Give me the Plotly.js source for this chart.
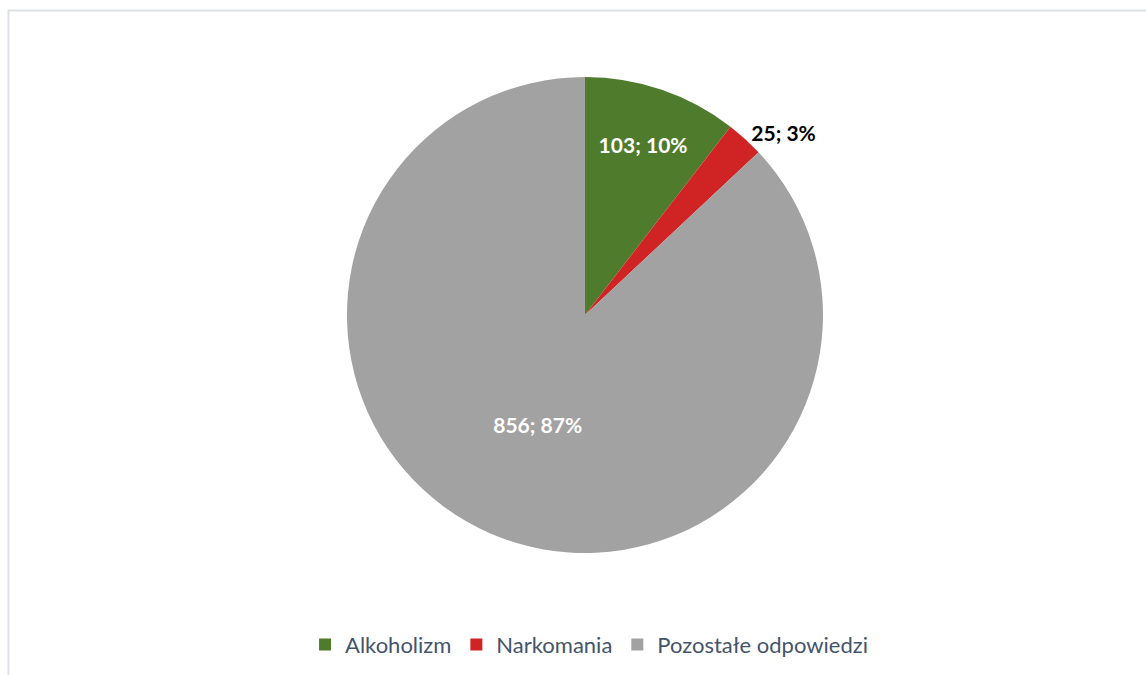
<!DOCTYPE html>
<html>
<head>
<meta charset="utf-8">
<script src="https://cdn.plot.ly/plotly-3.0.1.min.js"></script>
<style>
html,body{margin:0;padding:0;background:#fff;}
#chart{width:1146px;height:675px;}
</style>
</head>
<body>
<div id="chart"></div>
<script>
const categories = ["Alkoholizm", "Narkomania", "Pozostałe odpowiedzi"];
const values = [103, 25, 856];
const colors = ["#4f7b2c", "#d02424", "#a2a2a2"];
const textColors = ["#ffffff", "#000000", "#ffffff"];
const textPositions = ["inside", "outside", "inside"];

const trace = {
  type: "pie",
  labels: categories,
  values: values,
  sort: false,
  direction: "clockwise",
  rotation: 0,
  marker: { colors: colors, line: { width: 0 } },
  texttemplate: "%{value}; %{percent:.0%}",
  textposition: textPositions,
  textfont: { family: "Lato, 'Open Sans', sans-serif", size: 21, color: textColors, weight: "bold" },
  insidetextorientation: "horizontal",
  hoverinfo: "label+value+percent",
  domain: { x: [0.0209, 1], y: [0.1807, 0.8859] }
};

const layout = {
  width: 1146,
  height: 675,
  margin: { l: 0, r: 0, t: 0, b: 0 },
  paper_bgcolor: "#ffffff",
  showlegend: true,
  legend: {
    orientation: "h",
    x: 0.514,
    xanchor: "center",
    y: 0.045,
    yanchor: "middle",
    font: { family: "Lato, 'Open Sans', sans-serif", size: 22, color: "#44546a" },
    itemsizing: "constant",
    traceorder: "normal"
  },
  shapes: [{
    type: "rect",
    xref: "paper", yref: "paper",
    x0: 8.5 / 1146, x1: 1.01,
    y0: -0.01, y1: 1 - 10.5 / 675,
    line: { color: "#dde1e7", width: 2 },
    fillcolor: "rgba(0,0,0,0)"
  }]
};

Plotly.newPlot("chart", [trace], layout, { displayModeBar: false, staticPlot: true });
</script>
</body>
</html>
